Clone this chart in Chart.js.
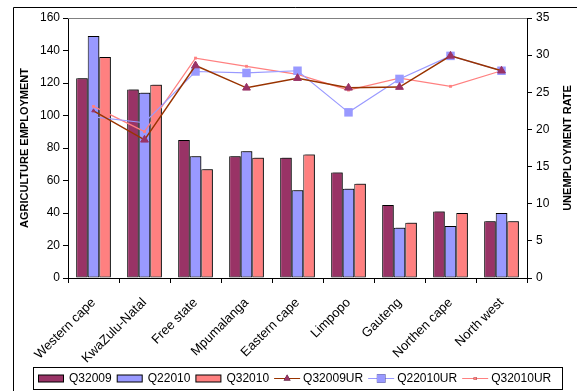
<!DOCTYPE html>
<html>
<head>
<meta charset="utf-8">
<script src="https://cdn.jsdelivr.net/npm/chart.js@4/dist/chart.umd.min.js"></script>
<style>
  html, body { margin: 0; padding: 0; background: #fff; }
  #wrap { width: 577px; height: 391px; }
</style>
</head>
<body>
<div id="wrap"><canvas id="c" width="577" height="391"></canvas></div>
<script>
// Provinces on the category axis
const categories = ['Western cape', 'KwaZulu-Natal', 'Free state', 'Mpumalanga', 'Eastern cape',
                    'Limpopo', 'Gauteng', 'Northen cape', 'North west'];

// Agriculture employment (thousands) per quarter
const q32009 = [123, 116, 85, 75, 74, 65, 45, 41, 35];
const q22010 = [149, 114, 75, 78, 54, 55, 31, 32, 40];
const q32010 = [136, 119, 67, 74, 76, 58, 34, 40, 35];

// Unemployment rate (%) per quarter
const q32009UR = [22.5, 18.6, 28.6, 25.6, 26.9, 25.6, 25.7, 29.9, 27.9];
const q22010UR = [21.7, 20.9, 27.8, 27.6, 27.9, 22.3, 26.8, 29.9, 27.9];
const q32010UR = [23.1, 19.7, 29.6, 28.5, 27.4, 25.3, 26.9, 25.8, 27.9];

// Axis ranges
const employmentMax = 160, employmentStep = 20;
const rateMax = 35, rateStep = 5;

const FONT = "'Liberation Sans', Arial, sans-serif";
Chart.defaults.font.family = FONT;
Chart.defaults.color = '#000';

// Grey drop shadow behind the bars
const barShadow = {
  id: 'barShadow',
  beforeDatasetDraw(chart, args) {
    const ds = chart.data.datasets[args.index];
    if (ds.type === 'bar') {
      const ctx = chart.ctx;
      ctx.save();
      ctx.shadowColor = 'rgba(0,0,0,0.5)';
      ctx.shadowOffsetX = 2;
      ctx.shadowOffsetY = -1;
      ctx.shadowBlur = 0;
    }
  },
  afterDatasetDraw(chart, args) {
    const ds = chart.data.datasets[args.index];
    if (ds.type === 'bar') chart.ctx.restore();
  }
};

// Outer frame, plot top edge, right-hand title and the boxed legend
const decorations = {
  id: 'decorations',
  afterDraw(chart) {
    const ctx = chart.ctx;
    const area = chart.chartArea;
    ctx.save();
    // frame
    ctx.strokeStyle = '#000';
    ctx.lineWidth = 1;
    ctx.beginPath();
    ctx.moveTo(13.5, 391);
    ctx.lineTo(13.5, 7.5);
    ctx.lineTo(577, 7.5);
    ctx.stroke();
    // top edge of the plot area
    ctx.strokeStyle = '#808080';
    ctx.beginPath();
    ctx.moveTo(area.left, area.top + 0.5);
    ctx.lineTo(area.right, area.top + 0.5);
    ctx.stroke();
    // right axis title, reading upward
    ctx.fillStyle = '#000';
    ctx.font = 'bold 11px ' + FONT;
    ctx.textAlign = 'center';
    ctx.textBaseline = 'middle';
    ctx.translate(568, (area.top + area.bottom) / 2);
    ctx.rotate(-Math.PI / 2);
    ctx.fillText('UNEMPLOYMENT RATE', 0, 0);
    ctx.restore();

    // legend
    ctx.save();
    const boxL = 33.5, boxT = 367.5, boxR = 562.5, boxB = 389.5;
    ctx.fillStyle = '#fff';
    ctx.fillRect(boxL, boxT, boxR - boxL, boxB - boxT);
    ctx.strokeStyle = '#000';
    ctx.lineWidth = 1;
    ctx.strokeRect(boxL, boxT, boxR - boxL, boxB - boxT);
    ctx.font = '12px ' + FONT;
    ctx.textBaseline = 'middle';
    ctx.textAlign = 'left';
    const cy = 378.5;
    let x = 38;
    chart.data.datasets.forEach(ds => {
      if (ds.type === 'bar') {
        ctx.fillStyle = ds.backgroundColor;
        ctx.fillRect(x + 0.5, cy - 3.5, 25, 7);
        ctx.strokeStyle = '#000';
        ctx.strokeRect(x + 0.5, cy - 3.5, 25, 7);
        x += 31;
      } else {
        ctx.strokeStyle = ds.borderColor;
        ctx.lineWidth = 1;
        ctx.beginPath();
        ctx.moveTo(x, cy);
        ctx.lineTo(x + 26, cy);
        ctx.stroke();
        Chart.helpers.drawPoint(ctx, {
          pointStyle: ds.pointStyle,
          radius: ds.legendRadius,
          borderWidth: 0
        }, x + 13, cy);
        ctx.fillStyle = ds.pointBackgroundColor;
        ctx.fill();
        x += 29;
      }
      ctx.fillStyle = '#000';
      ctx.fillText(ds.label, x, cy + 0.5);
      x += ctx.measureText(ds.label).width + 5;
    });
    ctx.restore();
  }
};

const ctx = document.getElementById('c').getContext('2d');
new Chart(ctx, {
  data: {
    labels: categories,
    datasets: [
      { type: 'bar', label: 'Q32009', data: q32009, yAxisID: 'y', order: 2,
        backgroundColor: '#993366', borderColor: '#000', borderWidth: 1, borderSkipped: false },
      { type: 'bar', label: 'Q22010', data: q22010, yAxisID: 'y', order: 2,
        backgroundColor: '#9999FF', borderColor: '#000', borderWidth: 1, borderSkipped: false },
      { type: 'bar', label: 'Q32010', data: q32010, yAxisID: 'y', order: 2,
        backgroundColor: '#FF8080', borderColor: '#000', borderWidth: 1, borderSkipped: false },
      { type: 'line', label: 'Q32009UR', data: q32009UR, yAxisID: 'y1', order: 0,
        borderColor: '#993300', borderWidth: 1.5, pointStyle: 'triangle',
        pointRadius: [2, 4.5, 4.5, 4.5, 4.5, 4.5, 4.5, 4.5, 4.5], legendRadius: 4,
        pointBackgroundColor: '#993366', pointBorderColor: '#993366', pointBorderWidth: 1,
        tension: 0 },
      { type: 'line', label: 'Q22010UR', data: q22010UR, yAxisID: 'y1', order: 0,
        borderColor: '#9999FF', borderWidth: 1.2, pointStyle: 'rect',
        pointRadius: [0, 0, 6, 6, 6, 6, 6, 6, 6], legendRadius: 6,
        pointBackgroundColor: '#9999FF', pointBorderColor: '#9999FF', pointBorderWidth: 0,
        tension: 0 },
      { type: 'line', label: 'Q32010UR', data: q32010UR, yAxisID: 'y1', order: 0,
        borderColor: '#FF8080', borderWidth: 1.2, pointStyle: 'rect',
        pointRadius: 2, legendRadius: 2,
        pointBackgroundColor: '#FF8080', pointBorderColor: '#FF8080', pointBorderWidth: 0,
        tension: 0 }
    ]
  },
  options: {
    responsive: false,
    animation: false,
    events: [],
    layout: { padding: { left: 14, top: 18, right: 0, bottom: 0 } },
    plugins: { legend: { display: false }, tooltip: { enabled: false } },
    datasets: { bar: { categoryPercentage: 0.68, barPercentage: 1.0 } },
    scales: {
      x: {
        offset: true,
        grid: { display: true, drawOnChartArea: false, offset: true, color: '#000', tickLength: 5, tickColor: '#000' },
        border: { color: '#000', width: 1 },
        ticks: { font: { size: 13 }, color: '#000', maxRotation: 45, minRotation: 45, padding: 12, autoSkip: false },
        afterFit(scale) { scale.height = 113; }
      },
      y: {
        position: 'left',
        min: 0, max: employmentMax,
        grid: { drawOnChartArea: false, color: '#000', tickLength: 5, tickColor: '#000' },
        border: { color: '#000', width: 1 },
        ticks: { stepSize: employmentStep, font: { size: 12 }, color: '#000', padding: 3 },
        title: { display: true, text: 'AGRICULTURE EMPLOYMENT', font: { size: 11, weight: 'bold' }, color: '#000', padding: { top: 4, bottom: 0 } },
        afterFit(scale) { scale.width = 54; }
      },
      y1: {
        position: 'right',
        min: 0, max: rateMax,
        grid: { drawOnChartArea: false, color: '#000', tickLength: 5, tickColor: '#000' },
        border: { color: '#000', width: 1 },
        ticks: { stepSize: rateStep, font: { size: 12 }, color: '#000', padding: 4 },
        afterFit(scale) { scale.width = 50; }
      }
    }
  },
  plugins: [barShadow, decorations]
});
</script>
</body>
</html>
